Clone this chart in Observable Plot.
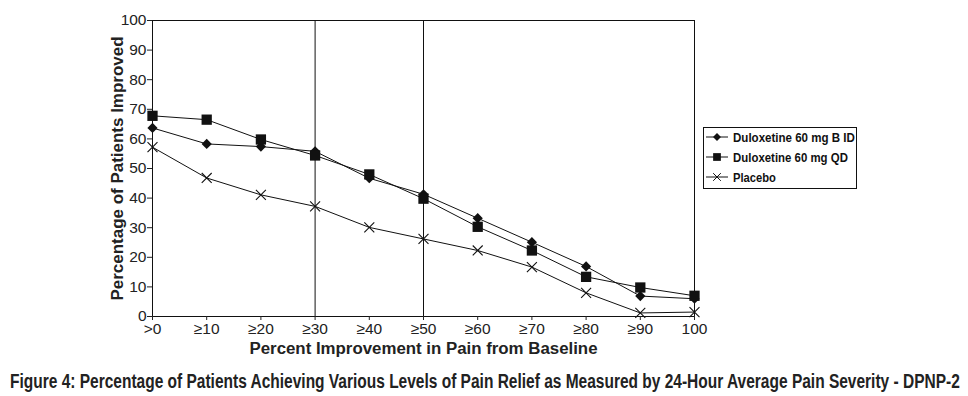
<!DOCTYPE html>
<html>
<head>
<meta charset="utf-8">
<script src="https://cdn.jsdelivr.net/npm/d3@7"></script>
<script src="https://cdn.jsdelivr.net/npm/@observablehq/plot@0.6"></script>
<style>
  html, body { margin: 0; padding: 0; background: #fff; overflow: hidden; }
  #wrap { position: relative; width: 968px; height: 396px; }
  #caption { position: absolute; left: 0; top: 360px; }
  #legend { position: absolute; left: 703px; top: 127px; }
</style>
</head>
<body>
<div id="wrap">
  <div id="chart"></div>
  <div id="legend"></div>
  <div id="caption"></div>
</div>
<script>
const thresholds = [0, 10, 20, 30, 40, 50, 60, 70, 80, 90, 100];
const tickLabels = [">0", "≥10", "≥20", "≥30", "≥40", "≥50", "≥60", "≥70", "≥80", "≥90", "100"];
const seriesNames = ["Duloxetine 60 mg B ID", "Duloxetine 60 mg QD", "Placebo"];
const bid = [63.7, 58.3, 57.4, 55.8, 46.7, 41.3, 33.2, 25.1, 16.9, 6.9, 6.0];
const qd = [67.8, 66.5, 59.8, 54.4, 48.0, 39.8, 30.3, 22.3, 13.4, 9.8, 7.0];
const placebo = [57.2, 46.8, 41.1, 37.2, 30.1, 26.2, 22.3, 16.7, 8.0, 1.2, 1.5];
const refLines = [30, 50];
const symbols = ["diamond2", "square", "times"];
const captionText = "Figure 4: Percentage of Patients Achieving Various Levels of Pain Relief as Measured by 24-Hour Average Pain Severity - DPNP-2";

const allSeries = [bid, qd, placebo];
const data = [];
allSeries.forEach((vals, s) => vals.forEach((v, i) => data.push({series: seriesNames[s], x: thresholds[i], y: v})));

const font = "Liberation Sans, Arial, Helvetica, sans-serif";

const chart = Plot.plot({
  width: 968,
  height: 360,
  marginLeft: 152,
  marginRight: 274,
  marginTop: 20,
  marginBottom: 44,
  style: { fontFamily: font, fontSize: "15px", color: "#222", background: "#fff" },
  x: { domain: [0, 100] },
  y: { domain: [0, 100] },
  marks: [
    Plot.frame({ stroke: "#111" }),
    Plot.ruleX(refLines, { stroke: "#111" }),
    Plot.axisY(d3.range(0, 101, 10), {
      tickSize: 5, tickPadding: 1, label: "Percentage of Patients Improved",
      labelAnchor: "center", labelArrow: "none", labelOffset: 41,
      fontSize: 15.5
    }),
    Plot.axisX(thresholds, {
      tickSize: 4, tickPadding: 2, tickFormat: (d) => tickLabels[thresholds.indexOf(d)],
      label: "Percent Improvement in Pain from Baseline", labelAnchor: "center",
      labelArrow: "none", labelOffset: 37, fontSize: 15.5
    }),
    Plot.line(data, { x: "x", y: "y", z: "series", stroke: "#111", strokeWidth: 1 }),
    Plot.dot(data.filter(d => d.series === seriesNames[0]), { x: "x", y: "y", symbol: () => symbols[0], r: 4.6, fill: "#111", stroke: "none" }),
    Plot.dot(data.filter(d => d.series === seriesNames[1]), { x: "x", y: "y", symbol: () => symbols[1], r: 5.8, fill: "#111", stroke: "none" }),
    Plot.dot(data.filter(d => d.series === seriesNames[2]), { x: "x", y: "y", symbol: () => symbols[2], r: 4.6, fill: "none", stroke: "#111", strokeWidth: 1.1 })
  ]
});
document.getElementById("chart").appendChild(chart);

// bold axis titles, fitted to the reference's lengths
d3.select(chart).selectAll("g[aria-label='y-axis label'] text")
  .style("font-weight", "bold").style("font-size", "16px")
  .attr("textLength", 264).attr("lengthAdjust", "spacingAndGlyphs");
d3.select(chart).selectAll("g[aria-label='x-axis label'] text")
  .style("font-weight", "bold").style("font-size", "16px")
  .attr("textLength", 348).attr("lengthAdjust", "spacingAndGlyphs");

// condensed text helper: draws text at its natural size, then squeezes it horizontally
function condensed(parent, str, x, y, size, width, fill) {
  const g = parent.append("g");
  const t = g.append("text").attr("x", 0).attr("y", 0).text(str)
    .attr("font-family", font).attr("font-weight", "bold").attr("font-size", size).attr("fill", fill);
  const w = t.node().getComputedTextLength();
  g.attr("transform", `translate(${x},${y}) scale(${width / w},1)`);
}

// legend
const legendWidths = [122, 115, 43];
const lg = d3.select("#legend").append("svg").attr("width", 160).attr("height", 63);
lg.append("rect").attr("x", 0.5).attr("y", 0.5).attr("width", 153).attr("height", 61)
  .attr("fill", "#fff").attr("stroke", "#111");
seriesNames.forEach((name, i) => {
  const cy = 10 + i * 20;
  lg.append("line").attr("x1", 3).attr("x2", 25).attr("y1", cy).attr("y2", cy).attr("stroke", "#111");
  const sym = d3.symbol().type(i === 0 ? d3.symbolDiamond2 : i === 1 ? d3.symbolSquare : d3.symbolTimes)
    .size(i === 1 ? 60 : 40);
  lg.append("path").attr("d", sym()).attr("transform", `translate(14,${cy})`)
    .attr("fill", i === 2 ? "none" : "#111").attr("stroke", i === 2 ? "#111" : "none");
  condensed(lg, name, 30, cy + 4.5, 12.5, legendWidths[i], "#111");
});

// caption
const cap = d3.select("#caption").append("svg").attr("width", 968).attr("height", 36);
condensed(cap, captionText, 10, 28, 19.5, 950, "#222");
</script>
</body>
</html>
